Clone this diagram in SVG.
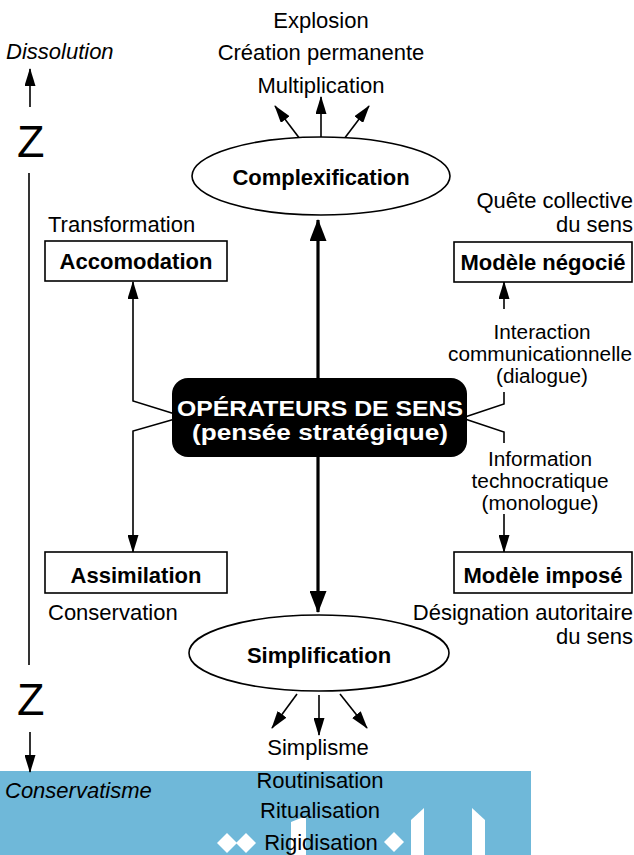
<svg xmlns="http://www.w3.org/2000/svg" width="634" height="855" viewBox="0 0 634 855">
<style>
.t{font-family:"Liberation Sans",Arial,sans-serif;font-size:22px;fill:#000}
.s{font-size:20px}
.b{font-weight:bold}
.i{font-style:italic}
.m{text-anchor:middle}
.e{text-anchor:end}
.box{fill:#fff;stroke:#000;stroke-width:1.6}
.ell{fill:#fff;stroke:#000;stroke-width:1.6}
.ln{fill:none;stroke:#000;stroke-width:1.6}
.thick{fill:none;stroke:#000;stroke-width:3.2}
.w{fill:#fff}
</style>
<defs>
<marker id="ah" markerUnits="userSpaceOnUse" markerWidth="18" markerHeight="11" refX="17" refY="5.5" orient="auto">
<path d="M0,0 L18,5.5 L0,11 z" fill="#000"/>
</marker>
<marker id="ahb" markerUnits="userSpaceOnUse" markerWidth="22" markerHeight="17" refX="21" refY="8.5" orient="auto-start-reverse">
<path d="M0,0 L22,8.5 L0,17 z" fill="#000"/>
</marker>
</defs>
<rect width="634" height="855" fill="#fff"/>

<!-- background band -->
<g id="band">
<rect x="0" y="771" width="531" height="84" fill="#6fb8d9"/>
<polygon class="w" points="217,843 227,833 237,843 227,853"/>
<polygon class="w" points="236,843 246,833 256,843 246,853"/>
<polygon class="w" points="384,842 394,832 404,842 394,852"/>
<polygon class="w" points="291,822 306,816 306,855 291,855"/>
<polygon class="w" points="411,820 424,808 424,855 411,855"/>
<polygon class="w" points="472,808 485,820 485,855 472,855"/>
</g>

<g id="connectors">
<line class="ln" x1="30" y1="107" x2="30" y2="69" marker-end="url(#ah)"/>
<line class="ln" x1="29" y1="173" x2="29" y2="665"/>
<line class="ln" x1="30" y1="732" x2="30" y2="772" marker-end="url(#ah)"/>
<line class="ln" x1="300" y1="139" x2="275" y2="106" marker-end="url(#ah)"/>
<line class="ln" x1="321" y1="137" x2="321" y2="97" marker-end="url(#ah)"/>
<line class="ln" x1="344" y1="139" x2="369" y2="106" marker-end="url(#ah)"/>
<line class="thick" x1="318" y1="220" x2="318" y2="612" marker-start="url(#ahb)" marker-end="url(#ahb)"/>
<path class="ln" d="M175,414 L133,401 L133,282" marker-end="url(#ah)"/>
<path class="ln" d="M175,419 L133,431 L133,552" marker-end="url(#ah)"/>
<path class="ln" d="M465,417 L504,404 L504,392"/>
<line class="ln" x1="504" y1="309" x2="504" y2="282" marker-end="url(#ah)"/>
<path class="ln" d="M465,419 L504,432 L504,443"/>
<line class="ln" x1="504" y1="514" x2="504" y2="552" marker-end="url(#ah)"/>
<line class="ln" x1="297" y1="694" x2="272" y2="728" marker-end="url(#ah)"/>
<line class="ln" x1="319" y1="695" x2="319" y2="735" marker-end="url(#ah)"/>
<line class="ln" x1="340" y1="694" x2="367" y2="728" marker-end="url(#ah)"/>
</g>

<g id="axis-labels">
<text class="t i" x="6" y="59">Dissolution</text>
<text class="t" x="17" y="157" style="font-size:45px">Z</text>
<text class="t" x="17" y="715" style="font-size:45px">Z</text>
<text class="t i" x="5" y="798">Conservatisme</text>
</g>

<g id="complexification">
<ellipse class="ell" cx="321" cy="176" rx="129" ry="39"/>
<text class="t b m" x="321" y="185">Complexification</text>
<text class="t m" x="321" y="28">Explosion</text>
<text class="t m" x="321" y="60">Création permanente</text>
<text class="t m" x="321" y="93">Multiplication</text>
</g>

<g id="accomodation">
<text class="t" x="48" y="232">Transformation</text>
<rect class="box" x="45" y="241" width="182" height="40"/>
<text class="t b m" x="136" y="269">Accomodation</text>
</g>

<g id="modele-negocie">
<text class="t e" x="633" y="208">Quête collective</text>
<text class="t e" x="633" y="232">du sens</text>
<rect class="box" x="454" y="242" width="178" height="40"/>
<text class="t b m" x="543" y="270">Modèle négocié</text>
</g>

<g id="interaction">
<text class="t s m" x="542" y="339" textLength="97" lengthAdjust="spacingAndGlyphs">Interaction</text>
<text class="t s m" x="540" y="361" textLength="184" lengthAdjust="spacingAndGlyphs">communicationnelle</text>
<text class="t s m" x="542" y="383" textLength="92" lengthAdjust="spacingAndGlyphs">(dialogue)</text>
</g>

<g id="operateurs">
<rect x="172" y="378" width="295" height="79" rx="16" fill="#000"/>
<text class="t b m" x="320" y="416" style="fill:#fff" textLength="286" lengthAdjust="spacingAndGlyphs">OPÉRATEURS DE SENS</text>
<text class="t b m" x="320" y="440" style="fill:#fff" textLength="256" lengthAdjust="spacingAndGlyphs">(pensée stratégique)</text>
</g>

<g id="information">
<text class="t s m" x="540" y="466" textLength="104" lengthAdjust="spacingAndGlyphs">Information</text>
<text class="t s m" x="540" y="488" textLength="137" lengthAdjust="spacingAndGlyphs">technocratique</text>
<text class="t s m" x="540" y="510" textLength="117" lengthAdjust="spacingAndGlyphs">(monologue)</text>
</g>

<g id="assimilation">
<rect class="box" x="45" y="552" width="182" height="41"/>
<text class="t b m" x="136" y="583">Assimilation</text>
<text class="t" x="48" y="620">Conservation</text>
</g>

<g id="modele-impose">
<rect class="box" x="454" y="552" width="178" height="41"/>
<text class="t b m" x="543" y="583">Modèle imposé</text>
<text class="t e" x="633" y="620">Désignation autoritaire</text>
<text class="t e" x="633" y="644">du sens</text>
</g>

<g id="simplification">
<ellipse class="ell" cx="319" cy="653" rx="130" ry="38"/>
<text class="t b m" x="319" y="663">Simplification</text>
<text class="t m" x="318" y="755">Simplisme</text>
<text class="t m" x="320" y="788">Routinisation</text>
<text class="t m" x="320" y="818">Ritualisation</text>
<text class="t m" x="321" y="850">Rigidisation</text>
</g>
</svg>
